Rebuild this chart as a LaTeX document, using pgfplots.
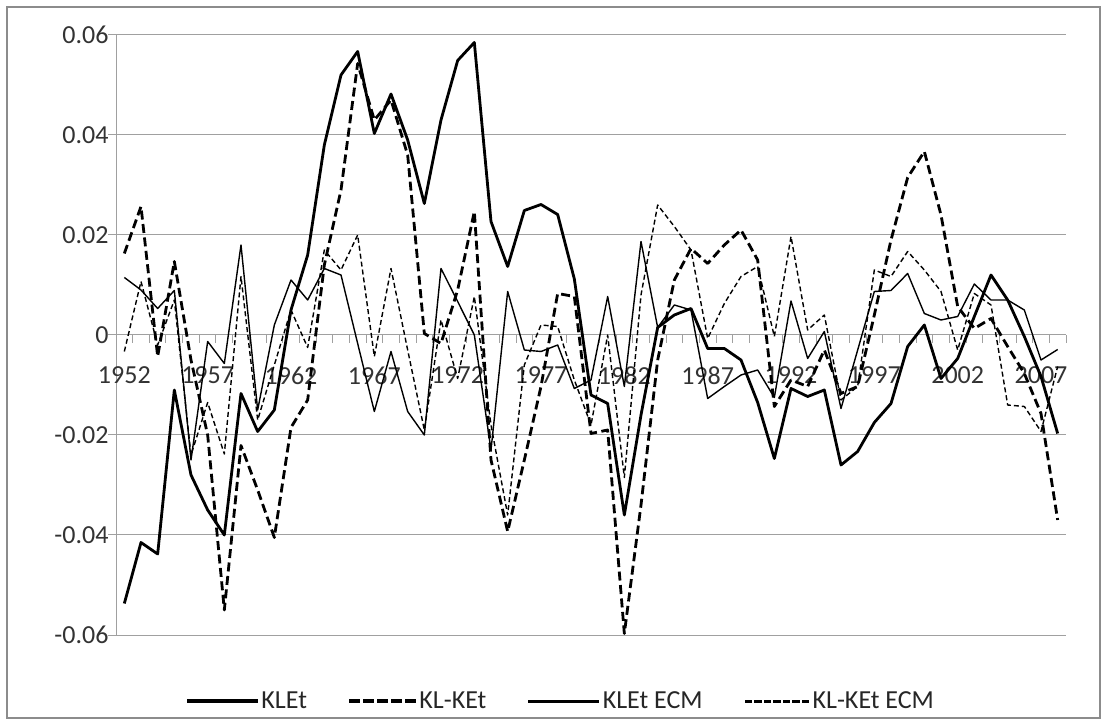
\documentclass[border=0pt]{standalone}
\usepackage{fontspec}
\setmainfont{Carlito}
\usepackage{pgfplots}
\usepackage{pgfplotstable}
\pgfplotsset{compat=1.18}
\definecolor{gridgray}{RGB}{160,160,160}
\definecolor{bordergray}{RGB}{140,140,140}

\pgfplotstableread{
year klet klket kletecm klketecm
1952 -0.0537 0.0163 0.0115 -0.0033
1953 -0.0415 0.0257 0.0090 0.0107
1954 -0.0438 -0.0043 0.0053 -0.0020
1955 -0.0110 0.0147 0.0089 0.0070
1956 -0.0280 -0.0050 -0.0250 -0.0240
1957 -0.0350 -0.0200 -0.0013 -0.0135
1958 -0.0400 -0.0550 -0.0057 -0.0238
1959 -0.0117 -0.0221 0.0180 0.0117
1960 -0.0193 -0.0310 -0.0150 -0.0170
1961 -0.0150 -0.0405 0.0020 -0.0060
1962 0.0050 -0.0185 0.0110 0.0050
1963 0.0160 -0.0130 0.0070 -0.0025
1964 0.0380 0.0140 0.0133 0.0170
1965 0.0520 0.0290 0.0120 0.0130
1966 0.0567 0.0543 -0.0017 0.0200
1967 0.0403 0.0430 -0.0153 -0.0043
1968 0.0482 0.0470 -0.0033 0.0133
1969 0.0390 0.0360 -0.0153 -0.0030
1970 0.0263 0.0003 -0.0200 -0.0190
1971 0.0430 -0.0017 0.0133 0.0030
1972 0.0549 0.0090 0.0067 -0.0087
1973 0.0585 0.0247 0.0000 0.0077
1974 0.0227 -0.0250 -0.0230 -0.0180
1975 0.0137 -0.0393 0.0087 -0.0360
1976 0.0249 -0.0250 -0.0030 -0.0060
1977 0.0261 -0.0103 -0.0033 0.0020
1978 0.0241 0.0083 -0.0020 0.0017
1979 0.0112 0.0077 -0.0107 -0.0090
1980 -0.0120 -0.0197 -0.0090 -0.0180
1981 -0.0137 -0.0190 0.0077 0.0000
1982 -0.0360 -0.0597 -0.0103 -0.0285
1983 -0.0160 -0.0340 0.0187 0.0080
1984 0.0015 -0.0050 0.0015 0.0260
1985 0.0040 0.0110 0.0060 0.0217
1986 0.0053 0.0173 0.0050 0.0170
1987 -0.0027 0.0143 -0.0127 -0.0007
1988 -0.0027 0.0180 -0.0103 0.0063
1989 -0.0050 0.0210 -0.0080 0.0117
1990 -0.0135 0.0150 -0.0070 0.0137
1991 -0.0247 -0.0143 -0.0125 -0.0003
1992 -0.0107 -0.0090 0.0068 0.0197
1993 -0.0123 -0.0103 -0.0047 0.0010
1994 -0.0110 -0.0030 0.0007 0.0040
1995 -0.0260 -0.0117 -0.0147 -0.0130
1996 -0.0233 -0.0103 -0.0030 -0.0103
1997 -0.0175 0.0040 0.0087 0.0130
1998 -0.0137 0.0190 0.0089 0.0117
1999 -0.0023 0.0315 0.0123 0.0167
2000 0.0020 0.0367 0.0043 0.0130
2001 -0.0087 0.0240 0.0030 0.0087
2002 -0.0047 0.0057 0.0037 -0.0030
2003 0.0037 0.0013 0.0102 0.0083
2004 0.0120 0.0033 0.0070 0.0060
2005 0.0070 -0.0023 0.0070 -0.0140
2006 -0.0003 -0.0077 0.0050 -0.0143
2007 -0.0083 -0.0157 -0.0050 -0.0193
2008 -0.0197 -0.0370 -0.0029 -0.0063
}\data

\begin{document}
\begin{tikzpicture}
\path[use as bounding box] (0,0) rectangle (1107bp,725bp);
\fill[white] (0,0) rectangle (1107bp,725bp);
\draw[bordergray, line width=1.6bp] (7bp,7bp) rectangle (1100bp,718bp);
\begin{axis}[
  at={(116bp,90bp)}, anchor=south west,
  width=950bp, height=600bp, scale only axis,
  xmin=1951.5, xmax=2008.5,
  ymin=-0.06, ymax=0.06,
  clip=false,
  scaled y ticks=false,
  scaled x ticks=false,
  axis x line*=middle,
  axis y line*=left,
  axis line style={gridgray, line width=1bp},
  tick align=outside,
  major tick length=8bp,
  tick style={gridgray, line width=1bp},
  xtick={1951.5,1952.5,...,2008.5},
  xticklabels={},
  extra x ticks={1952,1957,1962,1967,1972,1977,1982,1987,1992,1997,2002,2007},
  extra x tick labels={1952,1957,1962,1967,1972,1977,1982,1987,1992,1997,2002,2007},
  extra x tick style={tick style={draw=none}, xticklabel style={anchor=north, yshift=-20bp}},
  ytick={-0.06,-0.04,-0.02,0,0.02,0.04,0.06},
  yticklabels={-0.06,-0.04,-0.02,0,0.02,0.04,0.06},
  yticklabel style={xshift=4bp},
  ymajorgrids=true,
  grid style={gridgray, line width=1bp},
  ticklabel style={font=\fontsize{26bp}{30bp}\selectfont, text=black!80},
  legend columns=4,
  legend style={at={(rel axis cs:0.47,-0.11)}, anchor=center, draw=none, fill=none,
    font=\fontsize{26bp}{30bp}\selectfont, text=black!85,
    /tikz/every even column/.append style={column sep=38bp},
    nodes={inner xsep=4bp, inner ysep=2bp}},
]
\addlegendimage{legend image code/.code={\fill[black] (0bp,-1.4bp) rectangle (70bp,1.4bp);}}
\addlegendentry{KLEt}
\addlegendimage{legend image code/.code={
  \fill[black] (0bp,-1.4bp) rectangle (10bp,1.4bp);
  \fill[black] (14bp,-1.4bp) rectangle (24bp,1.4bp);
  \fill[black] (28bp,-1.4bp) rectangle (38bp,1.4bp);
  \fill[black] (42bp,-1.4bp) rectangle (52bp,1.4bp);
  \fill[black] (56bp,-1.4bp) rectangle (66bp,1.4bp);}}
\addlegendentry{KL-KEt}
\addlegendimage{legend image code/.code={\fill[black] (0bp,-0.7bp) rectangle (70bp,0.7bp);}}
\addlegendentry{KLEt ECM}
\addlegendimage{legend image code/.code={
  \fill[black] (0bp,-0.7bp) rectangle (6.5bp,0.7bp);
  \fill[black] (9.5bp,-0.7bp) rectangle (16bp,0.7bp);
  \fill[black] (19bp,-0.7bp) rectangle (25.5bp,0.7bp);
  \fill[black] (28.5bp,-0.7bp) rectangle (35bp,0.7bp);
  \fill[black] (38bp,-0.7bp) rectangle (44.5bp,0.7bp);
  \fill[black] (47.5bp,-0.7bp) rectangle (54bp,0.7bp);
  \fill[black] (57bp,-0.7bp) rectangle (63.5bp,0.7bp);}}
\addlegendentry{KL-KEt ECM}
\addplot[forget plot, black, line width=2.8bp, line join=round] table[x=year,y=klet] {\data};
\addplot[forget plot, black, line width=2.8bp, line join=round, dash pattern=on 9bp off 4.5bp] table[x=year,y=klket] {\data};
\addplot[forget plot, black, line width=1.4bp, line join=round] table[x=year,y=kletecm] {\data};
\addplot[forget plot, black, line width=1.4bp, line join=round, dash pattern=on 5bp off 3bp] table[x=year,y=klketecm] {\data};
\end{axis}
\end{tikzpicture}
\end{document}
